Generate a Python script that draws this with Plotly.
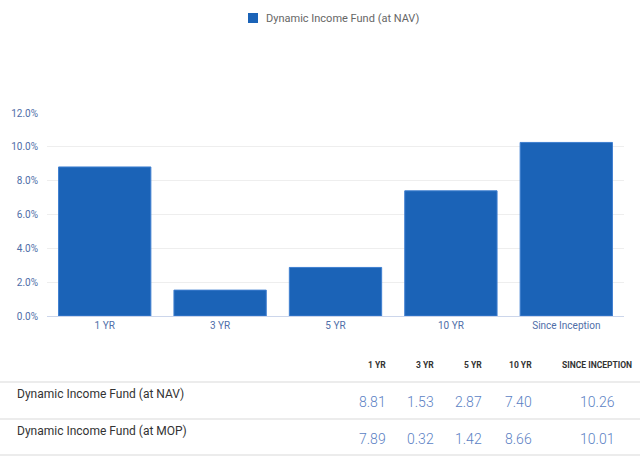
import plotly.graph_objects as go

categories = ["1 YR", "3 YR", "5 YR", "10 YR", "Since Inception"]
table_headers = ["1 YR", "3 YR", "5 YR", "10 YR", "SINCE INCEPTION"]
nav_name = "Dynamic Income Fund (at NAV)"
mop_name = "Dynamic Income Fund (at MOP)"
nav_values = [8.81, 1.53, 2.87, 7.40, 10.26]
mop_values = [7.89, 0.32, 1.42, 8.66, 10.01]
y_ticks = [0, 2, 4, 6, 8, 10, 12]

W, H = 640, 457
L, R, T, B = 47, 16, 113, 141
pw, ph = W - L - R, H - T - B


def px(x):
    return (x - L) / pw


def py(y):
    return (H - B - y) / ph


fig = go.Figure()
fig.add_trace(go.Bar(
    x=categories, y=nav_values, name=nav_name,
    marker=dict(color="#1b63b7", line=dict(color="#3f7fd0", width=1)),
    showlegend=False,
))

# legend drawn by hand (square + label)
fig.add_shape(type="rect", xref="paper", yref="paper",
              x0=px(248), x1=px(258), y0=py(13), y1=py(23),
              fillcolor="#1b63b7", line=dict(width=0))
fig.add_annotation(text=nav_name, xref="paper", yref="paper", x=px(264), y=py(18),
                   xanchor="left", yanchor="middle", showarrow=False,
                   font=dict(family="Roboto", size=11, color="#666666"))

# table below chart
header_x = [388, 436, 484, 534, 597]
anchors = ["right", "right", "right", "right", "center"]
for h, x, a in zip(table_headers, header_x, anchors):
    fig.add_annotation(text="<b>" + h + "</b>", xref="paper", yref="paper",
                       x=px(x), y=py(365), xanchor=a, yanchor="middle", showarrow=False,
                       font=dict(family="Roboto", size=8.5, color="#333333"))

for row_y, name, vals in [(402, nav_name, nav_values), (439, mop_name, mop_values)]:
    fig.add_annotation(text=name, xref="paper", yref="paper", x=px(15), y=py(row_y - 8),
                       xanchor="left", yanchor="middle", showarrow=False,
                       font=dict(family="Roboto", size=12, color="#333333"))
    for v, x, a in zip(vals, header_x, anchors):
        fig.add_annotation(text=f"{v:.2f}", xref="paper", yref="paper",
                           x=px(x), y=py(row_y), xanchor=a, yanchor="middle", showarrow=False,
                           font=dict(family="Roboto", size=14, color="#5b7fc4", weight=300))

for ly in [382, 419, 455]:
    fig.add_shape(type="line", xref="paper", yref="paper",
                  x0=px(0), x1=px(640), y0=py(ly), y1=py(ly),
                  line=dict(color="#e6e6e6", width=1.5))

fig.update_layout(
    width=W, height=H,
    margin=dict(l=L, r=R, t=T, b=B),
    plot_bgcolor="white", paper_bgcolor="white",
    bargap=0.2,
    font=dict(family="Roboto"),
    xaxis=dict(showline=True, linecolor="#ccd6eb", linewidth=1,
               tickfont=dict(size=10, color="#4f6ea8"), ticks="",
               showgrid=False, fixedrange=True),
    yaxis=dict(range=[0, 12], tickvals=y_ticks,
               ticktext=[f"{t:.1f}%" for t in y_ticks],
               tickfont=dict(size=10, color="#4f6ea8"),
               gridcolor="#eeeeee", gridwidth=1, zeroline=False,
               ticklabelstandoff=8),
)

# page has a default 8px body margin; remove it so the figure sits at 0,0
fig.write_html("out.html", config={"displayModeBar": False},
               post_script="document.body.style.margin='0';")
